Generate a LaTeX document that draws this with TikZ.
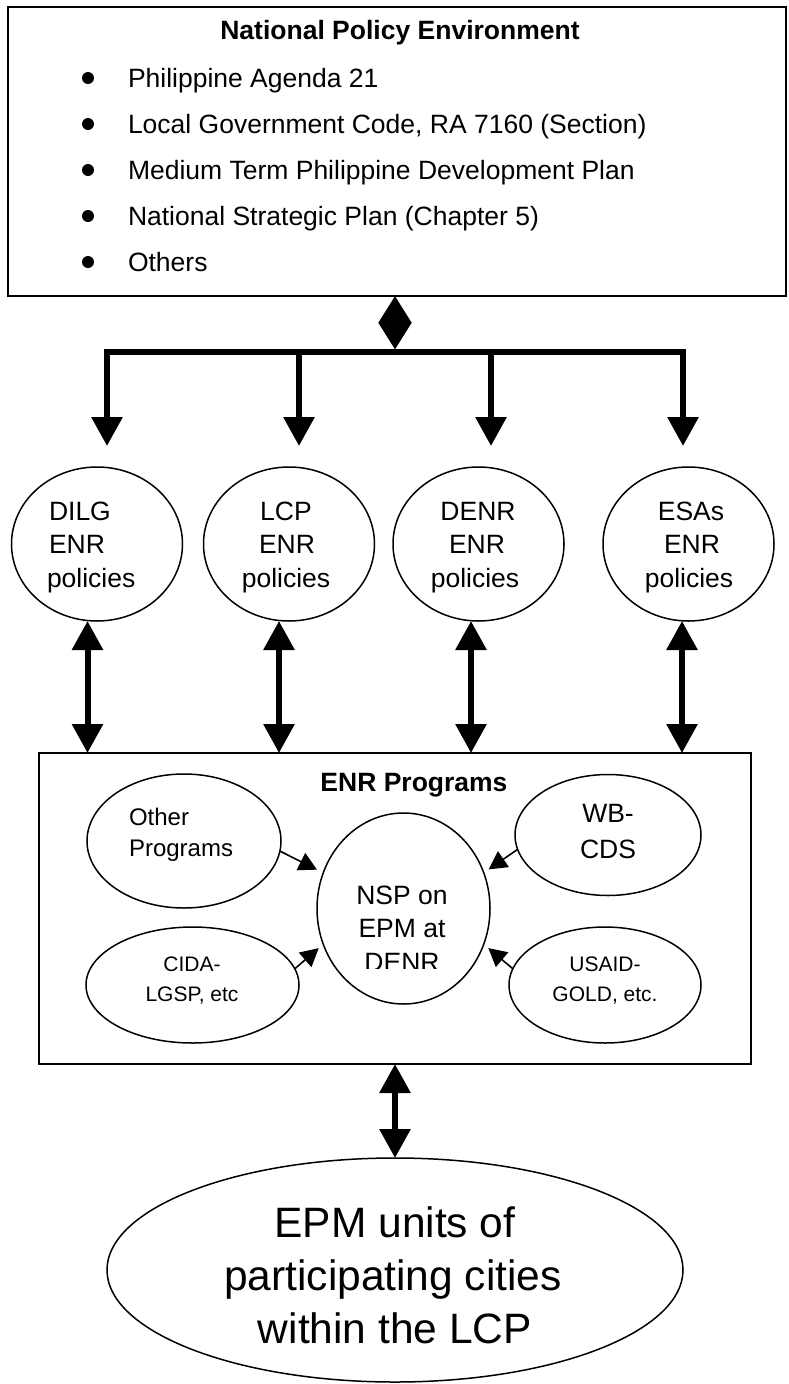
\documentclass[tikz,border=0pt]{standalone}
\usepackage{fontspec}
\setmainfont{Liberation Sans}
\usetikzlibrary{shapes.geometric,arrows.meta,calc}
\begin{document}
\begin{tikzpicture}[x=1pt,y=-1pt,
  every node/.style={inner sep=0pt, outer sep=0pt},
  framebox/.style={draw, line width=1.8pt, rectangle, anchor=north west},
  oval/.style={draw, ellipse, line width=1.5pt},
  bulletdot/.style={circle, fill, minimum size=12pt},
  bigdbl/.style={line width=6pt, {Triangle[length=29pt,width=30pt]}-{Triangle[length=29pt,width=30pt]}},
  bigone/.style={line width=6pt, -{Triangle[length=29pt,width=30pt]}},
  diam/.style={line width=5pt, {Triangle[length=26.75pt,width=32pt]}-{Triangle[length=26.75pt,width=32pt]}},
  smallarr/.style={line width=1.6pt, -{Triangle[length=18pt,width=19pt]}},
  fxxvi/.style={font=\fontsize{26.5}{30}\selectfont},
  fxxvib/.style={font=\bfseries\fontsize{26.5}{30}\selectfont},
  fxxiv/.style={font=\fontsize{24}{28}\selectfont},
  fxxi/.style={font=\fontsize{21}{25}\selectfont},
  fxlii/.style={font=\fontsize{42.5}{48}\selectfont},
]
\fill[white] (0,0) rectangle (788,1384);
\useasboundingbox (0,0) rectangle (788,1384);

% ---- National Policy Environment box
\node[framebox, minimum width=778pt, minimum height=289pt] (npe) at (8,7) {};
\node[fxxvib, anchor=base] (npet) at (400,39) {National Policy Environment};
\node[bulletdot] (b1) at (88,78) {};
\node[bulletdot] (b2) at (88,124) {};
\node[bulletdot] (b3) at (88,170) {};
\node[bulletdot] (b4) at (88,216) {};
\node[bulletdot] (b5) at (88,262) {};
\node[fxxvi, anchor=base west] (it1) at (128,87) {Philippine Agenda 21};
\node[fxxvi, anchor=base west] (it2) at (128,133) {Local Government Code, RA 7160 (Section)};
\node[fxxvi, anchor=base west] (it3) at (128,179) {Medium Term Philippine Development Plan};
\node[fxxvi, anchor=base west] (it4) at (128,225) {National Strategic Plan (Chapter 5)};
\node[fxxvi, anchor=base west] (it5) at (128,271) {Others};

% ---- distribution bar
\coordinate (d1) at (107,352);
\coordinate (d2) at (299,352);
\coordinate (d3) at (491,352);
\coordinate (d4) at (683,352);
\coordinate (barM) at (395,349.5);
\draw[line width=5.5pt, line cap=rect] (d1) -- (d4);
\draw[diam] (395,0 |- npe.south) -- (barM);

% ---- policy circles
\node[oval, minimum width=171pt, minimum height=154pt] (dilg) at (97,544) {};
\node[oval, minimum width=171pt, minimum height=154pt] (lcp) at (289,544) {};
\node[oval, minimum width=171pt, minimum height=154pt] (denr) at (478.5,544) {};
\node[oval, minimum width=171pt, minimum height=154pt] (esas) at (688.5,544) {};

\node[fxxvi, anchor=base west] (dilg1) at (49,520) {DILG};
\node[fxxvi, anchor=base west] (dilg2) at (49,553) {ENR};
\node[fxxvi, anchor=base west] (dilg3) at (47,587) {policies};
\node[fxxvi, anchor=base] (lcp1) at (286,520) {LCP};
\node[fxxvi, anchor=base] (lcp2) at (287,553) {ENR};
\node[fxxvi, anchor=base] (lcp3) at (286,587) {policies};
\node[fxxvi, anchor=base] (denr1) at (478,520) {DENR};
\node[fxxvi, anchor=base] (denr2) at (477,553) {ENR};
\node[fxxvi, anchor=base] (denr3) at (475,587) {policies};
\node[fxxvi, anchor=base] (esas1) at (691,520) {ESAs};
\node[fxxvi, anchor=base] (esas2) at (692,553) {ENR};
\node[fxxvi, anchor=base] (esas3) at (689,587) {policies};

\draw[bigone, shorten >=21pt] (d1) -- (107,0 |- dilg.north);
\draw[bigone, shorten >=21pt] (d2) -- (299,0 |- lcp.north);
\draw[bigone, shorten >=21pt] (d3) -- (491,0 |- denr.north);
\draw[bigone, shorten >=21pt] (d4) -- (683,0 |- esas.north);

% ---- ENR Programs box
\node[framebox, minimum width=712pt, minimum height=311pt] (enr) at (39,753) {};
\node[fxxvib, anchor=base] (enrt) at (414,791) {ENR Programs};

\draw[bigdbl] (87.5,0 |- dilg.south) -- (87.5,0 |- enr.north);
\draw[bigdbl] (279,0 |- lcp.south) -- (279,0 |- enr.north);
\draw[bigdbl] (471,0 |- denr.south) -- (471,0 |- enr.north);
\draw[bigdbl] (682,0 |- esas.south) -- (682,0 |- enr.north);

\node[oval, minimum width=194pt, minimum height=134pt] (other) at (184,841) {};
\node[fxxiv, anchor=base west] (other1) at (129,825) {Other};
\node[fxxiv, anchor=base west] (other2) at (129,856) {Programs};

\node[oval, minimum width=186pt, minimum height=121pt] (wb) at (608,835) {};
\node[fxxvi, anchor=base] (wb1) at (608,822) {WB-};
\node[fxxvi, anchor=base] (wb2) at (608,858) {CDS};

\node[oval, minimum width=173pt, minimum height=191pt] (nsp) at (403.5,908.5) {};
\begin{scope}
  \clip (300,860) rectangle (500,968);
  \node[fxxvi, anchor=base] (nsp1) at (402,904) {NSP on};
  \node[fxxvi, anchor=base] (nsp2) at (402,937.5) {EPM at};
  \node[fxxvi, anchor=base] (nsp3) at (402,971) {DENR};
\end{scope}

\node[oval, minimum width=213pt, minimum height=116pt] (cida) at (192.5,985) {};
\node[fxxi, anchor=base] (cida1) at (192,971) {CIDA-};
\node[fxxi, anchor=base] (cida2) at (192,1001) {LGSP, etc};

\node[oval, minimum width=192pt, minimum height=116pt] (usaid) at (605,985) {};
\node[fxxi, anchor=base] (usaid1) at (605,971) {USAID-};
\node[fxxi, anchor=base] (usaid2) at (605,1001) {GOLD, etc.};

\draw[smallarr, shorten >=7pt] (other.-6) -- (nsp.156);
\draw[smallarr, shorten >=6pt] (wb.189) -- (nsp.24);
\draw[smallarr, shorten >=6pt] (cida.9) -- (nsp.204);
\draw[smallarr, shorten >=6pt] (usaid.170) -- (nsp.-24);

% ---- EPM units
\node[oval, minimum width=576pt, minimum height=224pt] (epm) at (395,1270) {};
\node[fxlii, anchor=base] (epm1) at (395,1237) {EPM units of};
\node[fxlii, anchor=base] (epm2) at (393,1290) {participating cities};
\node[fxlii, anchor=base] (epm3) at (395,1343) {within the LCP};

\draw[bigdbl] (enr.south) -- (epm.north);
\end{tikzpicture}
\end{document}
